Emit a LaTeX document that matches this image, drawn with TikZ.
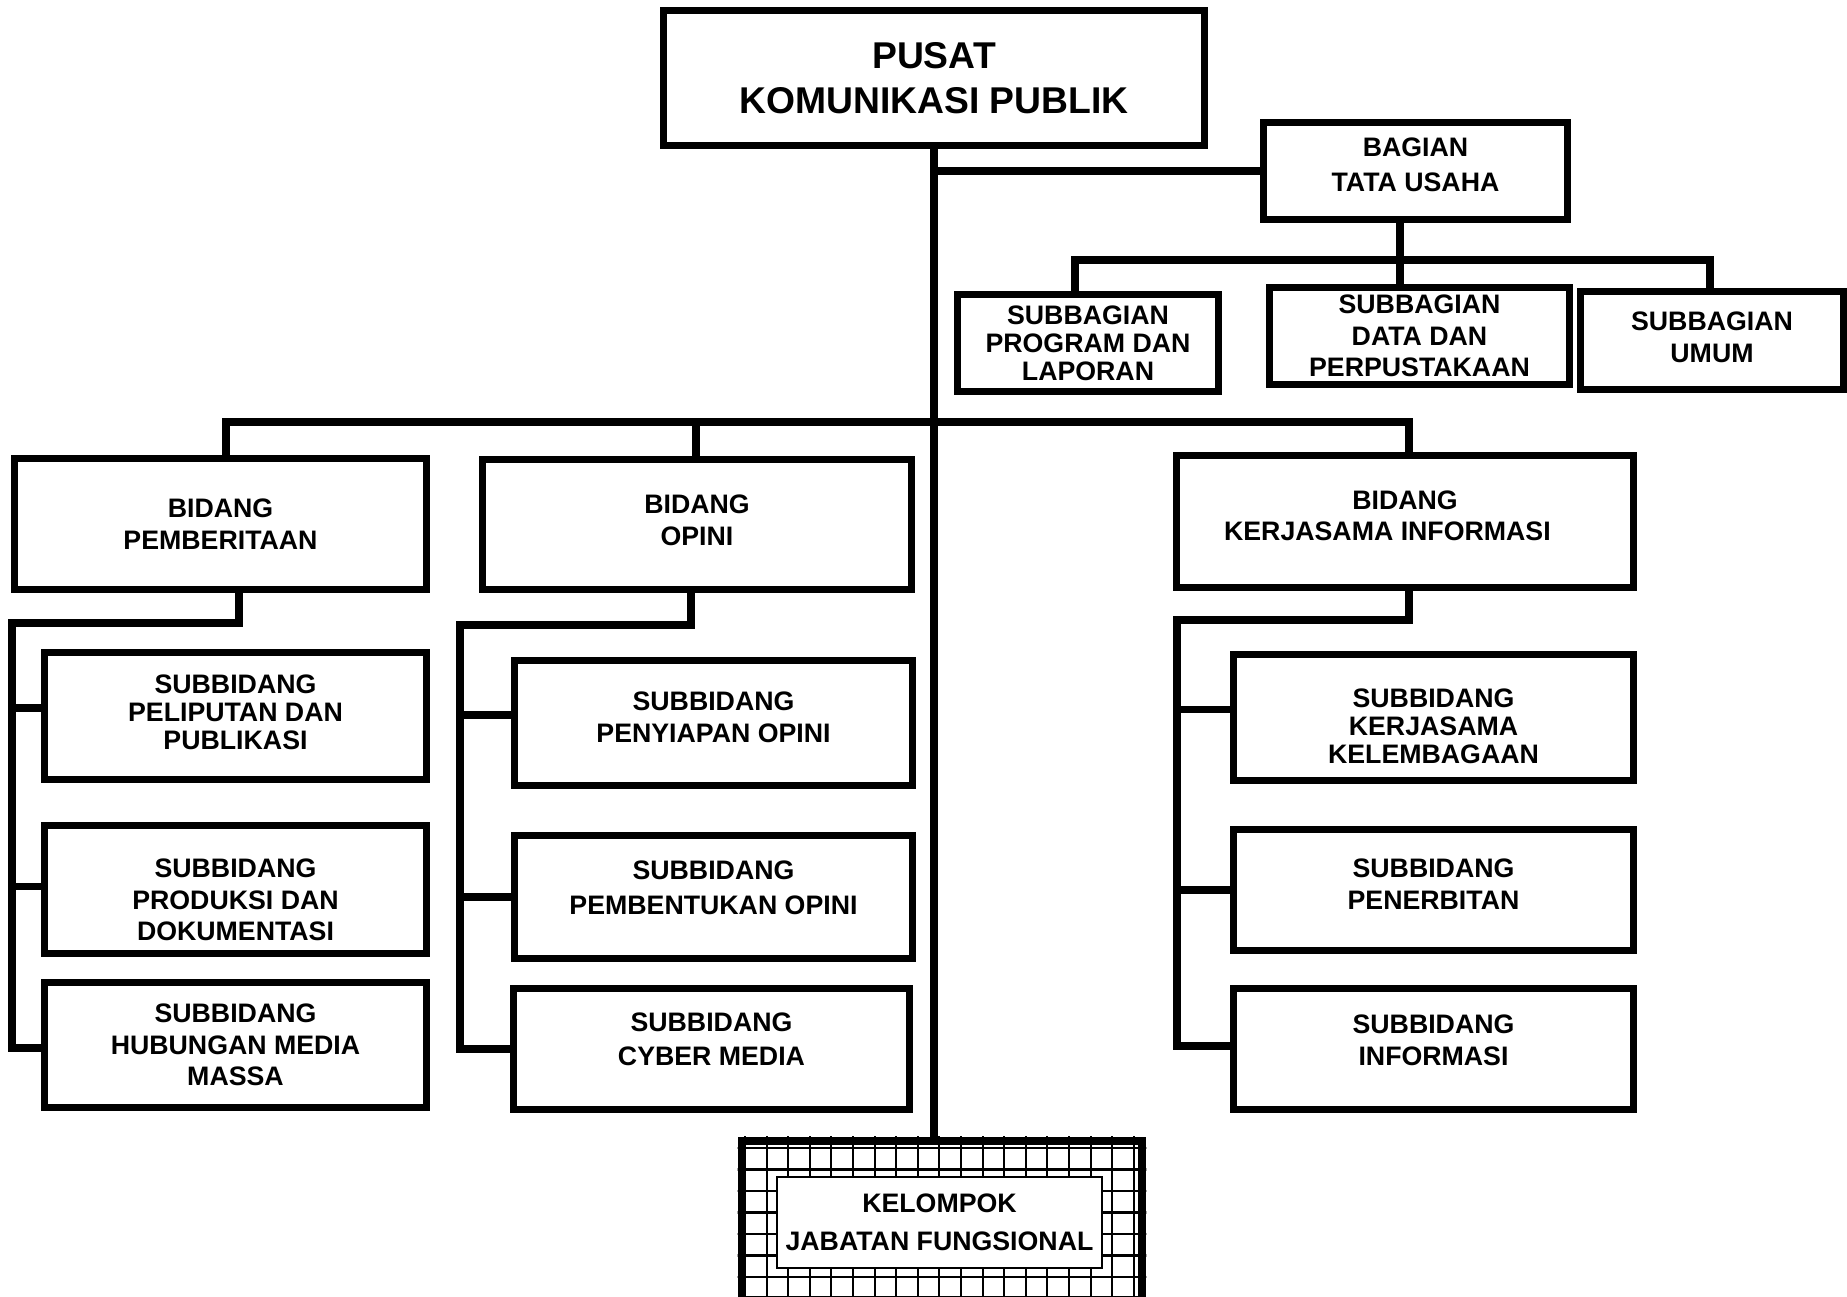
\documentclass[tikz,border=0pt]{standalone}
\usepackage{fontspec}
\setmainfont{Liberation Sans}
\usetikzlibrary{calc}
\newcommand{\sinkby}[1]{\rule{0pt}{#1}}
\tikzset{
	unit/.style    = {rectangle,draw,line width=2pt,fill=white,
		inner sep=0pt,align=center,
		font=\bfseries\fontsize{7.6}{9}\selectfont},
	tight/.style   = {font=\bfseries\fontsize{7.6}{8}\selectfont},
	loose/.style   = {font=\bfseries\fontsize{7.6}{9.8}\selectfont},
	lift/.style    = {text depth=#1},
	link/.style    = {line width=2pt},
	kelbox/.style  = {rectangle,draw,line width=2.4pt,inner sep=0pt},
	kelin/.style   = {rectangle,draw,line width=0.6pt,fill=white,
		inner sep=0pt,align=center,
		font=\bfseries\fontsize{7.6}{10.7}\selectfont},
	meshline/.style= {line width=0.6pt},
}

\begin{document}
\begin{tikzpicture}[x=0.01cm,y=-0.01cm]
	\useasboundingbox (0,0) rectangle (1847,1297);
	
	%% pimpinan dan tata usaha
	\node (top) [unit,minimum width=5.41cm,minimum height=1.35cm,
	font=\bfseries\fontsize{10.6}{12.7}\selectfont] at (934,78)
	{PUSAT\\KOMUNIKASI PUBLIK};
	\node (tu) [unit,lift=3.4pt,minimum width=3.04cm,minimum height=0.97cm,
	font=\bfseries\fontsize{7.6}{10}\selectfont] at (1415.5,171)
	{BAGIAN\\TATA USAHA};
	\node (prog) [unit,tight,minimum width=2.61cm,minimum height=0.97cm]
	at (1088,343) {SUBBAGIAN\\PROGRAM DAN\\LAPORAN};
	\node (data) [unit,minimum width=3.00cm,minimum height=0.97cm]
	at (1419.5,336) {SUBBAGIAN\\DATA DAN\\PERPUSTAKAAN};
	\node (umum) [unit,lift=2pt,minimum width=2.63cm,minimum height=0.98cm]
	at (1712,340.5) {SUBBAGIAN\\UMUM};
	
	%% bidang
	\node (pem) [unit,minimum width=4.12cm,minimum height=1.31cm]
	at (220.5,524) {BIDANG\\PEMBERITAAN};
	\node (opini) [unit,lift=2.4pt,minimum width=4.29cm,minimum height=1.30cm]
	at (697,524.5) {BIDANG\\OPINI};
	\node (kerja) [unit,lift=3.4pt,minimum width=4.57cm,minimum height=1.32cm]
	at (1405,521.5) {BIDANG\\KERJASAMA INFORMASI\hspace*{10pt}};
	
	%% subbidang
	\node (lip) [unit,tight,lift=2pt,minimum width=3.82cm,minimum height=1.27cm]
	at (235.5,716) {SUBBIDANG\\PELIPUTAN DAN\\PUBLIKASI};
	\node (prod) [unit,minimum width=3.82cm,minimum height=1.28cm]
	at (235.5,889.5) {\sinkby{11.2pt}SUBBIDANG\\PRODUKSI DAN\\DOKUMENTASI};
	\node (hub) [unit,minimum width=3.82cm,minimum height=1.25cm]
	at (235.5,1045) {SUBBIDANG\\HUBUNGAN MEDIA\\MASSA};
	\node (siap) [unit,lift=3.4pt,minimum width=3.98cm,minimum height=1.25cm]
	at (713.5,723) {SUBBIDANG\\PENYIAPAN OPINI};
	\node (bentuk) [unit,loose,lift=5.4pt,minimum width=3.98cm,minimum height=1.22cm]
	at (713.5,897) {SUBBIDANG\\PEMBENTUKAN OPINI};
	\node (cyber) [unit,loose,lift=5.7pt,minimum width=3.96cm,minimum height=1.21cm]
	at (711.5,1049) {SUBBIDANG\\CYBER MEDIA};
	\node (lemb) [unit,tight,minimum width=4.00cm,minimum height=1.26cm]
	at (1433.5,717.5) {\sinkby{10.5pt}SUBBIDANG\\KERJASAMA\\KELEMBAGAAN};
	\node (terbit) [unit,lift=3.4pt,minimum width=4.00cm,minimum height=1.21cm]
	at (1433.5,890) {SUBBIDANG\\PENERBITAN};
	\node (info) [unit,lift=5pt,minimum width=4.00cm,minimum height=1.21cm]
	at (1433.5,1049) {SUBBIDANG\\INFORMASI};
	
	%% jabatan fungsional
	\node (kel) [kelbox,minimum width=4.00cm,minimum height=1.59cm]
	at (942,1220.5) {};
	\begin{scope}
		\clip (kel.north west) rectangle (kel.south east);
		\foreach \i in {0,...,18}
		\draw[meshline] (745+\i*21.6,1130) -- ++(0,180);
		\foreach \j in {0,...,7}
		\draw[meshline] (730,1148+\j*21.5) -- ++(420,0);
	\end{scope}
	\node (kel) [kelbox,minimum width=4.00cm,minimum height=1.59cm]
	at (942,1220.5) {};
	\node (kelin) [kelin,minimum width=3.25cm,minimum height=0.91cm]
	at (939.5,1222.5) {KELOMPOK\\JABATAN FUNGSIONAL};
	
	%% titik sambung
	\coordinate (tuj) at (1400,260);
	\coordinate (pj)  at (1075,260);
	\coordinate (uj)  at (1710,260);
	\coordinate (bj1) at (226,422);
	\coordinate (bj2) at (696,422);
	\coordinate (bj3) at (1409,422);
	\coordinate (pa) at (239,623);  \coordinate (pb) at (12,623);
	\coordinate (oa) at (691,625);  \coordinate (ob) at (460,625);
	\coordinate (ka) at (1409,620); \coordinate (kb) at (1177,620);
	
	%% garis
	\draw[link] (top.south) -- (top.south |- kel.north);
	\draw[link] (top.south |- tu.west) -- (tu.west);
	\draw[link] (tu.south -| tuj) -- (tuj |- data.north);
	\draw[link] (pj |- prog.north) -- (pj) -- (uj) -- (uj |- umum.north);
	\draw[link] (bj1 |- pem.north) -- (bj1) -- (bj3) -- (bj3 |- kerja.north);
	\draw[link] (bj2) -- (bj2 |- opini.north);
	
	\draw[link] (pa |- pem.south) -- (pa) -- (pb) -- ($(pb |- hub.west)+(0,3)$)
	-- ($(hub.west)+(0,3)$);
	\draw[link] ($(pb |- lip.west)+(0,-8)$) -- ($(lip.west)+(0,-8)$);
	\draw[link] ($(pb |- prod.west)+(0,-3)$) -- ($(prod.west)+(0,-3)$);
	
	\draw[link] (oa |- opini.south) -- (oa) -- (ob) -- (ob |- cyber.west)
	-- (cyber.west);
	\draw[link] ($(ob |- siap.west)+(0,-8)$) -- ($(siap.west)+(0,-8)$);
	\draw[link] (ob |- bentuk.west) -- (bentuk.west);
	
	\draw[link] (ka |- kerja.south) -- (ka) -- (kb) -- ($(kb |- info.west)+(0,-3)$)
	-- ($(info.west)+(0,-3)$);
	\draw[link] ($(kb |- lemb.west)+(0,-8)$) -- ($(lemb.west)+(0,-8)$);
	\draw[link] (kb |- terbit.west) -- (terbit.west);
\end{tikzpicture}
\end{document}
